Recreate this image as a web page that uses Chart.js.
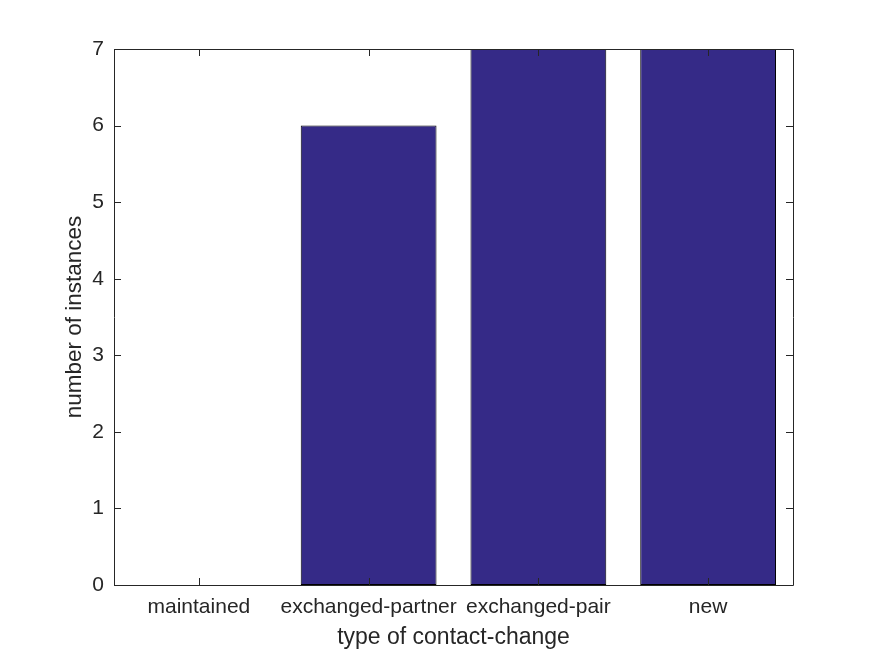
<!DOCTYPE html>
<html>
<head>
<meta charset="utf-8">
<script src="https://cdn.jsdelivr.net/npm/chart.js@4"></script>
<style>
  html, body { margin: 0; padding: 0; background: #ffffff; }
  #wrap { width: 875px; height: 656px; }
</style>
</head>
<body>
<div id="wrap"><canvas id="c" width="875" height="656"></canvas></div>
<script>
const categories = ["maintained", "exchanged-partner", "exchanged-pair", "new"];
const instances = [0, 6, 7, 7];
const yTicks = [0, 1, 2, 3, 4, 5, 6, 7];
const xTitle = "type of contact-change";
const yTitle = "number of instances";

const axisColor = "#262626";
const fontFamily = "'Liberation Sans', Arial, Helvetica, sans-serif";

const framePlugin = {
  id: "frame",
  afterDatasetsDraw(chart) {
    const {ctx, chartArea: a, scales: {x, y}} = chart;
    const tl = 7;
    ctx.save();
    ctx.strokeStyle = axisColor;
    ctx.lineWidth = 1;
    ctx.beginPath();
    ctx.rect(Math.round(a.left) + 0.5, Math.round(a.top) + 0.5,
             Math.round(a.right - a.left), Math.round(a.bottom - a.top));
    ctx.stroke();
    ctx.beginPath();
    categories.forEach((c, i) => {
      const px = Math.round(x.getPixelForValue(i)) + 0.5;
      ctx.moveTo(px, a.bottom); ctx.lineTo(px, a.bottom - tl);
      ctx.moveTo(px, a.top); ctx.lineTo(px, a.top + tl);
    });
    yTicks.forEach(v => {
      const py = Math.round(y.getPixelForValue(v)) + 0.5;
      ctx.moveTo(a.left, py); ctx.lineTo(a.left + tl, py);
      ctx.moveTo(a.right, py); ctx.lineTo(a.right - tl, py);
    });
    ctx.stroke();
    ctx.restore();
  }
};

new Chart(document.getElementById("c"), {
  type: "bar",
  data: {
    labels: categories,
    datasets: [{
      data: instances,
      backgroundColor: "#352A87",
      borderColor: "#000000",
      borderWidth: 1,
      borderSkipped: false,
      barPercentage: 0.8,
      categoryPercentage: 1.0
    }]
  },
  options: {
    responsive: false,
    animation: false,
    devicePixelRatio: 1,
    layout: { padding: { left: 0, top: 49, right: 82, bottom: 0 } },
    plugins: { legend: { display: false }, tooltip: { enabled: false } },
    scales: {
      x: {
        offset: true,
        grid: { display: false, drawTicks: false },
        border: { display: false },
        ticks: { color: axisColor, font: { family: fontFamily, size: 21 }, padding: 10, maxRotation: 0, autoSkip: false },
        title: { display: true, text: xTitle, color: axisColor, font: { family: fontFamily, size: 23 }, padding: { top: 0, bottom: 5 } },
        afterFit(s) { s.height = 71; }
      },
      y: {
        min: 0, max: 7,
        grid: { display: false, drawTicks: false },
        border: { display: false },
        ticks: { stepSize: 1, color: axisColor, font: { family: fontFamily, size: 21 }, padding: 10 },
        title: { display: true, text: yTitle, color: axisColor, font: { family: fontFamily, size: 22.5 }, padding: { top: 61, bottom: 0 } },
        afterFit(s) { s.width = 114; }
      }
    }
  },
  plugins: [framePlugin]
});
</script>
</body>
</html>
